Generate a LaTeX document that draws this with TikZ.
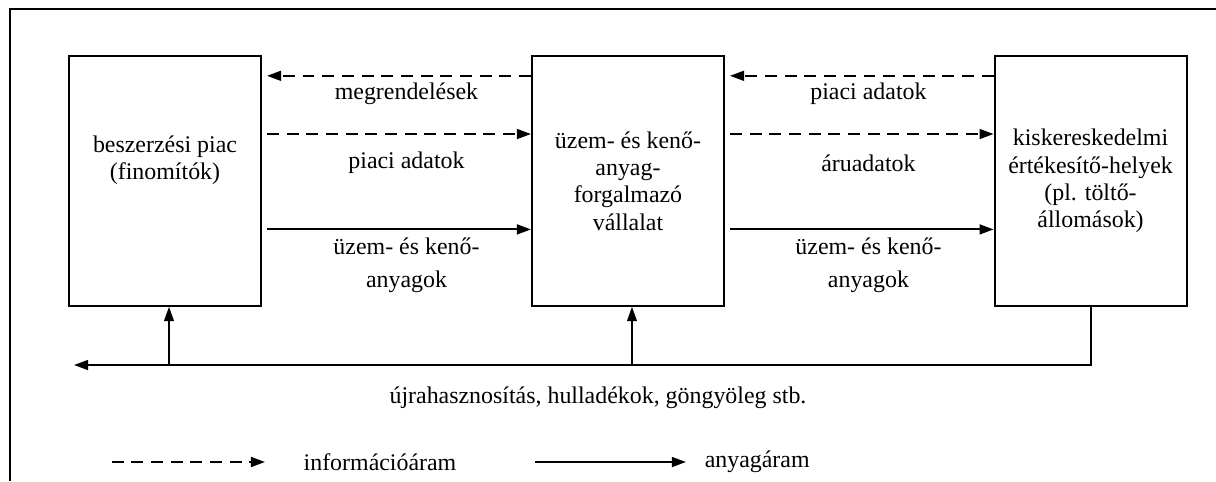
\documentclass[tikz,border=0pt]{standalone}
\usepackage{fontspec}
\setmainfont{Liberation Serif}
\usepackage{tikz}
\usetikzlibrary{positioning,calc,arrows.meta}

\tikzset{
doboz/.style={draw, line width=1.4pt, minimum width=4.8cm, minimum height=6.25cm, inner sep=0pt, align=center},
infoaram/.style={line width=1.4pt, dash pattern=on 8.5pt off 5.5pt, -{Triangle[length=10pt,width=7pt]}},
anyagaram/.style={line width=1.4pt, -{Triangle[length=10pt,width=7pt]}},
felirat/.style={align=center},
}

\begin{document}
\begin{tikzpicture}[every node/.style={font=\fontsize{17}{19.5}\selectfont}]

\useasboundingbox (0,0) rectangle (30.4,12.025);
\draw[line width=1.4pt] (0.25,0) -- (0.25,11.8) -- (30.4,11.8);						% keret

\node[doboz] (b1) at (4.125,7.5) {};														% beszerzesi piac
\node[felirat] (b1szoveg) at ([yshift=0.525cm]b1.center) {beszerzési piac\\(finomítók)};
\node[doboz, right=6.725cm of b1] (b2) {üzem- és kenő-\\anyag-\\forgalmazó\\vállalat};		% vallalat
\node[doboz, right=6.715cm of b2] (b3) {kiskereskedelmi\\értékesítő-helyek\\(pl. töltő-\\állomások)};	% toltoallomasok

\draw[infoaram] ([yshift=-0.52cm]b2.north west) -- ([xshift=1.25mm,yshift=-0.52cm]b1.north east);		% megrendelesek
\node (megr) at ($(b1.north east)!0.5!(b2.north west)+(0.25,-0.975)$) {megrendelések};
\draw[infoaram] ([xshift=1.25mm,yshift=-1.975cm]b1.north east) -- ([yshift=-1.975cm]b2.north west);	% piaci adatok
\node (piac1) at ($(b1.north east)!0.5!(b2.north west)+(0.25,-2.7)$) {piaci adatok};
\draw[anyagaram] ([xshift=1.25mm,yshift=-4.36cm]b1.north east) -- ([yshift=-4.36cm]b2.north west);		% anyagok 1
\node[felirat] (anyag1) at ($(b1.north east)!0.5!(b2.north west)+(0.25,-5.26)$) {üzem- és kenő-\\[3.5pt]anyagok};

\draw[infoaram] ([yshift=-0.52cm]b3.north west) -- ([xshift=1.25mm,yshift=-0.52cm]b2.north east);		% piaci adatok 2
\node (piac2) at ($(b2.north east)!0.5!(b3.north west)+(0.23,-0.975)$) {piaci adatok};
\draw[infoaram] ([xshift=1.25mm,yshift=-1.975cm]b2.north east) -- ([yshift=-1.975cm]b3.north west);	% aruadatok
\node (aru) at ($(b2.north east)!0.5!(b3.north west)+(0.23,-2.7)$) {áruadatok};
\draw[anyagaram] ([xshift=1.25mm,yshift=-4.36cm]b2.north east) -- ([yshift=-4.36cm]b3.north west);		% anyagok 2
\node[felirat] (anyag2) at ($(b2.north east)!0.5!(b3.north west)+(0.23,-5.26)$) {üzem- és kenő-\\[3.5pt]anyagok};

\coordinate (vissza) at (1.85,2.9);
\coordinate (f1) at ([xshift=1mm]b1.south);
\coordinate (f2) at ([xshift=1mm]b2.south);
\draw[anyagaram] (b3.south) |- (vissza);													% visszaaram
\draw[anyagaram, line width=0.9pt] (f1 |- vissza) -- (f1);
\draw[anyagaram, line width=0.9pt] (f2 |- vissza) -- (f2);
\node (ujra) at (14.95,2.075) {újrahasznosítás, hulladékok, göngyöleg stb.};

\coordinate (jel1a) at (2.79,0.475);
\coordinate (jel1b) at (6.625,0.475);
\draw[infoaram] (jel1a) -- (jel1b);														% jelmagyarazat
\node (infojel) at (9.5,0.475) {információáram};
\coordinate (jel2a) at (13.375,0.475);
\coordinate (jel2b) at (17.15,0.475);
\draw[anyagaram] (jel2a) -- (jel2b);
\node (anyagjel) at (18.93,0.475) {anyagáram};

\end{tikzpicture}
\end{document}
